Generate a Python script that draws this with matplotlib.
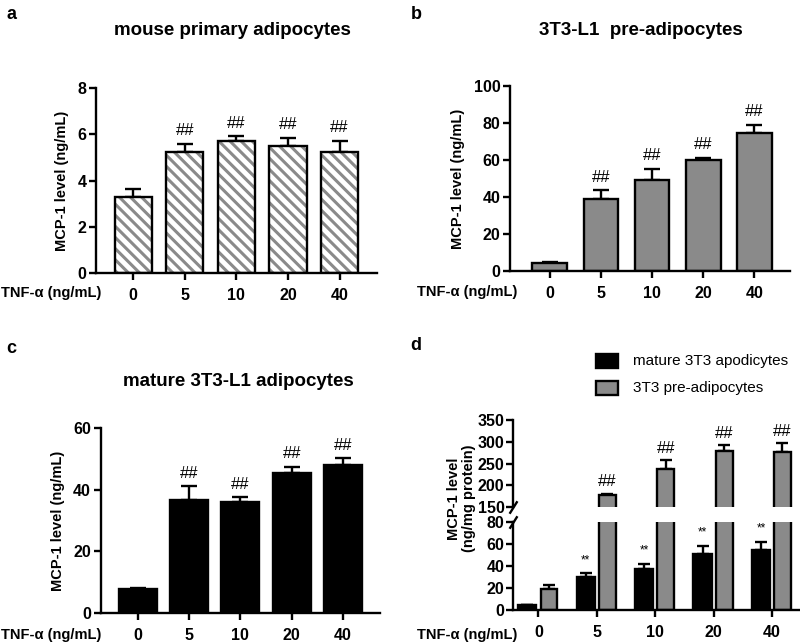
import matplotlib
matplotlib.use("Agg")
import matplotlib.pyplot as plt
import numpy as np

plt.rcParams['font.family'] = ['Liberation Sans', 'DejaVu Sans']
plt.rcParams['font.weight'] = 'bold'
plt.rcParams['axes.labelweight'] = 'bold'
plt.rcParams['hatch.linewidth'] = 2.2

# TNF-alpha doses (ng/mL)
doses = ['0', '5', '10', '20', '40']

# a: mouse primary adipocytes
a_mean = [3.3, 5.25, 5.7, 5.5, 5.25]
a_sem = [0.35, 0.35, 0.22, 0.35, 0.47]

# b: 3T3-L1 pre-adipocytes
b_mean = [4.3, 38.8, 49.1, 60.3, 74.7]
b_sem = [0.6, 4.9, 6.3, 1.1, 4.5]

# c: mature 3T3-L1 adipocytes
c_mean = [7.8, 36.8, 36.2, 45.6, 48.0]
c_sem = [0.3, 4.3, 1.4, 1.8, 2.3]

# d: per mg protein
d_mature = [4.5, 30.0, 37.0, 50.6, 54.5]
d_mature_sem = [0.0, 3.5, 5.0, 7.8, 7.5]
d_pre = [19.2, 177.0, 237.0, 279.0, 277.0]
d_pre_sem = [3.8, 4.0, 20.0, 14.0, 19.0]

GRAY = '#8a8a8a'
LW = 1.7
TICK_FS = 11.5
x = np.arange(len(doses))

fig = plt.figure(figsize=(8, 6.43), dpi=100)


def style(ax, ylim, yticks):
    ax.set_xlim(-0.72, 4.72)
    ax.set_ylim(*ylim)
    ax.set_yticks(yticks)
    ax.set_xticks(x)
    ax.set_xticklabels(doses)
    for s in ['top', 'right']:
        ax.spines[s].set_visible(False)
    for s in ['left', 'bottom']:
        ax.spines[s].set_linewidth(LW)
    ax.tick_params(width=LW, length=5, labelsize=TICK_FS, pad=2)
    ax.tick_params(axis='x', pad=6)
    ax.set_ylabel('MCP-1 level (ng/mL)', fontsize=10.5, labelpad=6)


def errs(ax, xs, mean, sem, cap=6):
    ax.errorbar(xs, mean, yerr=[np.zeros(len(sem)), sem], fmt='none',
                ecolor='black', elinewidth=LW, capsize=cap, capthick=LW, zorder=1)


def marks(ax, xs, mean, sem, txt, size=12, off=4):
    for xi, m, s in zip(xs, mean, sem):
        ax.annotate(txt, (xi, m + s), xytext=(0, off), textcoords='offset points',
                    ha='center', va='bottom', fontsize=size, fontweight='normal')


# panel a
ax_a = fig.add_axes([0.12, 0.5754, 0.351, 0.2876])
ax_a.bar(x, a_mean, width=0.72, color='white', edgecolor=GRAY, hatch='\\\\\\', linewidth=0, zorder=2)
ax_a.bar(x, a_mean, width=0.72, color='none', edgecolor='black', linewidth=LW, zorder=3)
errs(ax_a, x, a_mean, a_sem)
marks(ax_a, x[1:], a_mean[1:], a_sem[1:], '##')
style(ax_a, (0, 8), [0, 2, 4, 6, 8])

# panel b
ax_b = fig.add_axes([0.6375, 0.5785, 0.35, 0.2875])
ax_b.bar(x, b_mean, width=0.68, color=GRAY, edgecolor='black', linewidth=LW, zorder=2)
errs(ax_b, x, b_mean, b_sem)
marks(ax_b, x[1:], b_mean[1:], b_sem[1:], '##')
style(ax_b, (0, 100), [0, 20, 40, 60, 80, 100])
ax_b.set_xlim(-0.78, 4.7)

# panel c
ax_c = fig.add_axes([0.126, 0.0467, 0.349, 0.2873])
ax_c.bar(x, c_mean, width=0.74, color='black', edgecolor='black', linewidth=LW, zorder=2)
errs(ax_c, x, c_mean, c_sem)
marks(ax_c, x[1:], c_mean[1:], c_sem[1:], '##')
style(ax_c, (0, 60), [0, 20, 40, 60])

# panel d: broken y axis
dl = fig.add_axes([0.641, 0.0513, 0.359, 0.1369])
du = fig.add_axes([0.641, 0.2115, 0.359, 0.1353])
xb = x - 0.19
xg = x + 0.18
for ax in (dl, du):
    ax.bar(xb, d_mature, width=0.31, color='black', edgecolor='black', linewidth=LW, zorder=2)
    ax.bar(xg, d_pre, width=0.29, color=GRAY, edgecolor='black', linewidth=LW, zorder=2)
    ax.set_xlim(-0.44, 4.48)
    for s in ['top', 'right']:
        ax.spines[s].set_visible(False)
    for s in ['left', 'bottom']:
        ax.spines[s].set_linewidth(LW)
    ax.tick_params(width=LW, length=5, labelsize=TICK_FS, pad=1)

errs(dl, xb, d_mature, d_mature_sem, cap=4)
errs(dl, xg[:1], d_pre[:1], d_pre_sem[:1], cap=4)
errs(du, xg[1:], d_pre[1:], d_pre_sem[1:], cap=4)
marks(dl, xb[1:], d_mature[1:], d_mature_sem[1:], '**', size=8.5, off=5)
marks(du, xg[1:], d_pre[1:], d_pre_sem[1:], '##', size=12, off=3)

dl.set_ylim(0, 80)
dl.set_yticks([0, 20, 40, 60, 80])
dl.set_xticks(x)
dl.set_xticklabels(doses)
dl.tick_params(axis='x', pad=6)

du.set_ylim(150, 350)
du.set_yticks([150, 200, 250, 300, 350])
du.spines['bottom'].set_visible(False)
du.set_xticks([])

brk = dict(marker=[(-1, -1.6), (1, 1.6)], markersize=9, linestyle='none',
           color='black', mec='black', mew=LW, clip_on=False)
dl.plot([0], [1], transform=dl.transAxes, **brk)
du.plot([0], [0], transform=du.transAxes, **brk)

fig.text(0.577, 0.225, 'MCP-1 level\n(ng/mg protein)', rotation=90,
         ha='center', va='center', fontsize=10.5, fontweight='bold', linespacing=1.1)

# legend for d
fig.patches.append(plt.Rectangle((0.745, 0.428), 0.028, 0.022, transform=fig.transFigure,
                                 facecolor='black', edgecolor='black', linewidth=LW))
fig.patches.append(plt.Rectangle((0.745, 0.386), 0.028, 0.022, transform=fig.transFigure,
                                 facecolor=GRAY, edgecolor='black', linewidth=LW))
fig.text(0.791, 0.439, 'mature 3T3 apodicytes', ha='left', va='center', fontsize=11, fontweight='normal')
fig.text(0.791, 0.397, '3T3 pre-adipocytes', ha='left', va='center', fontsize=11, fontweight='normal')

# titles
fig.text(0.29, 0.953, 'mouse primary adipocytes', ha='center', va='center', fontsize=13.5, fontweight='bold')
fig.text(0.801, 0.953, '3T3-L1  pre-adipocytes', ha='center', va='center', fontsize=13.5, fontweight='bold')
fig.text(0.2975, 0.406, 'mature 3T3-L1 adipocytes', ha='center', va='center', fontsize=13.5, fontweight='bold')

# x-axis row labels
for lx, ly in [(0.001, 0.5443), (0.521, 0.5459), (0.001, 0.0124), (0.521, 0.0124)]:
    fig.text(lx, ly, 'TNF-α (ng/mL)', ha='left', va='center', fontsize=10.5, fontweight='bold')

# panel letters
for lx, ly, lab in [(0.008, 0.978, 'a'), (0.513, 0.978, 'b'), (0.008, 0.458, 'c'), (0.513, 0.462, 'd')]:
    fig.text(lx, ly, lab, fontsize=13, fontweight='bold', ha='left', va='center')

fig.savefig('out.png', dpi=100)
